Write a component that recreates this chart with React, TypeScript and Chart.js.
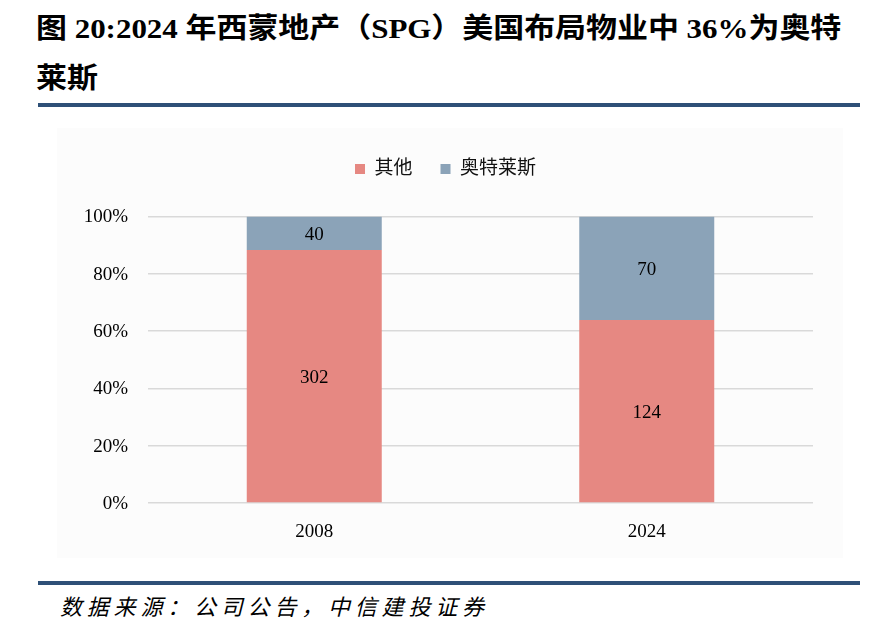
import React, { useEffect, useRef } from "react";
import { Chart, registerables } from "chart.js";

Chart.register(...registerables);

const categories = ["2008", "2024"];
const seriesNames = ["其他", "奥特莱斯"];
const otherCounts = [302, 124];
const outletCounts = [40, 70];
const seriesColors = ["#E68882", "#8BA3B8"];
const titleLine1 = "图 20:2024 年西蒙地产（SPG）美国布局物业中 36%为奥特";
const titleLine2 = "莱斯";
const sourceText = "数据来源：公司公告，中信建投证券";

const rawSeries = [otherCounts, outletCounts];
const toPct = (arr: number[]) =>
  arr.map((v, i) => (v / (otherCounts[i] + outletCounts[i])) * 100);

const SERIF = '"Liberation Serif", "Times New Roman", "Noto Sans CJK SC", serif';

const valueLabels = {
  id: "valueLabels",
  afterDatasetsDraw(chart: any) {
    const ctx = chart.ctx;
    ctx.save();
    ctx.font = "19px " + SERIF;
    ctx.fillStyle = "#000";
    ctx.textAlign = "center";
    ctx.textBaseline = "middle";
    chart.data.datasets.forEach((ds: any, di: number) => {
      const meta = chart.getDatasetMeta(di);
      meta.data.forEach((bar: any, i: number) => {
        const p = bar.getProps(["x", "y", "base"], true);
        ctx.fillText(String(rawSeries[di][i]), p.x, (p.y + p.base) / 2 + 2);
      });
    });
    ctx.restore();
  },
};

const legendGap = {
  id: "legendGap",
  beforeInit(chart: any) {
    const legend = chart.legend;
    if (!legend) return;
    const origFit = legend.fit;
    legend.fit = function () {
      origFit.call(this);
      this.height += 28;
    };
  },
};

function BarChart() {
  const ref = useRef<HTMLCanvasElement | null>(null);
  useEffect(() => {
    if (!ref.current) return;
    const chart = new Chart(ref.current, {
      type: "bar",
      data: {
        labels: categories,
        datasets: seriesNames.map((name, i) => ({
          label: name,
          data: toPct(rawSeries[i]),
          backgroundColor: seriesColors[i],
          borderWidth: 0,
          categoryPercentage: 1,
          barPercentage: 0.406,
        })),
      },
      options: {
        animation: false,
        responsive: false,
        maintainAspectRatio: false,
        layout: { padding: { top: 10.5, right: 47, left: 40, bottom: 0 } },
        plugins: {
          legend: {
            position: "top",
            labels: {
              boxWidth: 10,
              boxHeight: 10,
              padding: 28,
              color: "#111",
              font: { size: 19, family: SERIF },
            },
          },
          tooltip: { enabled: false },
        },
        scales: {
          x: {
            stacked: true,
            grid: { display: false },
            border: { display: false },
            ticks: {
              color: "#000",
              padding: 10,
              font: { size: 19, family: SERIF },
            },
            afterFit(s: any) {
              s.height = 58;
            },
          },
          y: {
            stacked: true,
            min: 0,
            max: 100,
            grid: { color: "#D9D9D9", lineWidth: 1.5, drawTicks: false },
            border: { display: false },
            ticks: {
              stepSize: 20,
              color: "#000",
              padding: 20,
              labelOffset: 1,
              font: { size: 19, family: SERIF },
              callback: (v: any) => v + "%",
            },
            afterFit(s: any) {
              s.width = 70;
            },
          },
        },
      },
      plugins: [valueLabels, legendGap],
    } as any);
    return () => chart.destroy();
  }, []);
  return <canvas ref={ref} width={822} height={440} style={{ width: 822, height: 440, display: "block" }} />;
}

const titleStyle: React.CSSProperties = {
  position: "absolute",
  left: 36,
  fontSize: 28,
  lineHeight: "32px",
  fontWeight: "bold",
  fontFamily: SERIF,
  whiteSpace: "nowrap",
  color: "#000",
  transform: "scaleX(1.105)",
  transformOrigin: "left center",
};

export default function App() {
  return (
    <div style={{ position: "absolute", left: 0, top: 0, width: 888, height: 640, background: "#fff", overflow: "hidden" }}>
      <div style={{ ...titleStyle, top: 13 }}>{titleLine1}</div>
      <div style={{ ...titleStyle, top: 63 }}>{titleLine2}</div>
      <div style={{ position: "absolute", left: 38, top: 103, width: 822, height: 4, background: "#2E5077" }} />
      <div style={{ position: "absolute", left: 57, top: 128, width: 786, height: 430, background: "#FCFCFC" }} />
      <div style={{ position: "absolute", left: 38, top: 121 }}>
        <BarChart />
      </div>
      <div style={{ position: "absolute", left: 38, top: 581, width: 822, height: 4, background: "#2E5077" }} />
      <div style={{ position: "absolute", left: 60, top: 594, fontSize: 22, lineHeight: "28px", fontStyle: "italic", fontFamily: SERIF, whiteSpace: "nowrap", color: "#000", letterSpacing: 4.8 }}>
        {sourceText}
      </div>
    </div>
  );
}
